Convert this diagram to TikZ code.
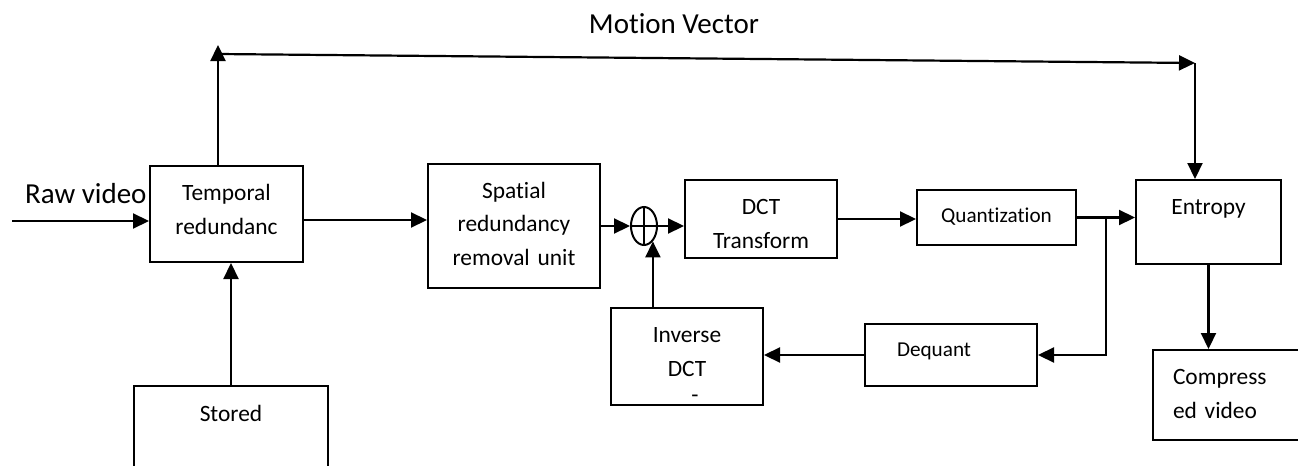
\documentclass[tikz,border=0pt]{standalone}
\usepackage{fontspec}
\setmainfont{Carlito}[Ligatures=NoCommon]
\usetikzlibrary{arrows.meta,calc,positioning,shapes.geometric}

\begin{document}
\begin{tikzpicture}[x=0.5pt, y=-0.5pt, >={Triangle[length=8pt,width=7.5pt]}, line width=1.1pt,
    box/.style={draw, line width=1pt, inner sep=0pt, anchor=north west, align=center,
                font=\fontsize{11.7}{17}\selectfont, text height=17pt},
    small/.style={font=\fontsize{10.6}{17}\selectfont, text height=16pt},
    big/.style={font=\fontsize{14.5}{17}\selectfont, inner sep=0pt}]
    \useasboundingbox (0,0) rectangle (1298,466);

    \node[box, text width=76.5pt, text depth=31pt]   (temp)    at (149,165)  {Temporal\\redundanc};
    \node[box, text width=86pt,   text depth=45pt]   (spatial) at (427,163)  {Spatial\\redundancy\\removal unit};
    \node[box, text width=76pt,   text depth=22pt]   (dct)     at (684,179)  {DCT\\Transform};
    \node[box, small, text width=79.5pt, text depth=11.5pt] (quant) at (916,189) {Quantization};
    \node[box, text width=72.5pt, text depth=25pt]   (entropy) at (1135,179) {Entropy};
    \node[box, small, align=left, inner xsep=16pt, text width=54pt, text depth=15pt] (dequant) at (864,323) {Dequant};
    \node[box, text width=76pt,   text depth=31.5pt] (inv)     at (610,307)  {Inverse\\DCT\\[-4pt]\hspace*{8pt}-};
    \node[box, text width=97pt, text height=17.5pt, text depth=32.5pt] (stored) at (133,385) {Stored};
    \node[box, align=left, inner xsep=10pt, text width=55pt, text depth=28pt] (comp) at (1152,349) {Compress\\ed video};

    \node[ellipse, draw, line width=1pt, minimum width=13pt, minimum height=19pt, inner sep=0pt] (sum) at (644,226) {};
    \draw[line width=1pt] (sum.north) -- (sum.south) (sum.west) -- (sum.east);

    \node[big, anchor=base west] (rawlbl) at (24,203) {Raw video};
    \node[big, anchor=base]      (mvlbl)  at (674,33) {Motion Vector};

    \coordinate (rawin)   at (12,221);
    \coordinate (tempout) at ([yshift=-3pt]temp.east);
    \coordinate (split)   at ($(quant.east)!0.5!(quant.east -| entropy.west)$);
    \coordinate (mvstart) at ($(temp.north)+(-8.5,-111)$);
    \coordinate (mvend)   at ($(entropy.north)+(-13.5,-116)$);

    % main path
    \draw[->] (rawin) -- (rawin -| temp.west);
    \draw[->] (tempout) -- (tempout -| spatial.west);
    \draw[->] (spatial.east |- sum) -- (sum.west);
    \draw[->] (sum.east) -- (sum.east -| dct.west);
    \draw[->] (dct.east) -- (dct.east -| quant.west);
    \draw[->] (quant.east) -- (quant.east -| entropy.west);
    \draw[->] (entropy.south) -- (entropy.south |- comp.north);
    \draw[->] (stored.north) -- (stored.north |- temp.south);

    % feedback loop
    \draw[->] (split) |- (dequant.east);
    \draw[->] (dequant.west) -- (dequant.west -| inv.east);
    \draw[->] (inv.north -| sum.-60) -- (sum.-60);

    % motion vector
    \draw[->] (temp.north -| mvstart) -- ($(mvstart)+(0,-9)$);
    \draw[->] (mvstart) -- (mvend);
    \draw[->] (mvend) -- (mvend |- entropy.north);
\end{tikzpicture}
\end{document}
